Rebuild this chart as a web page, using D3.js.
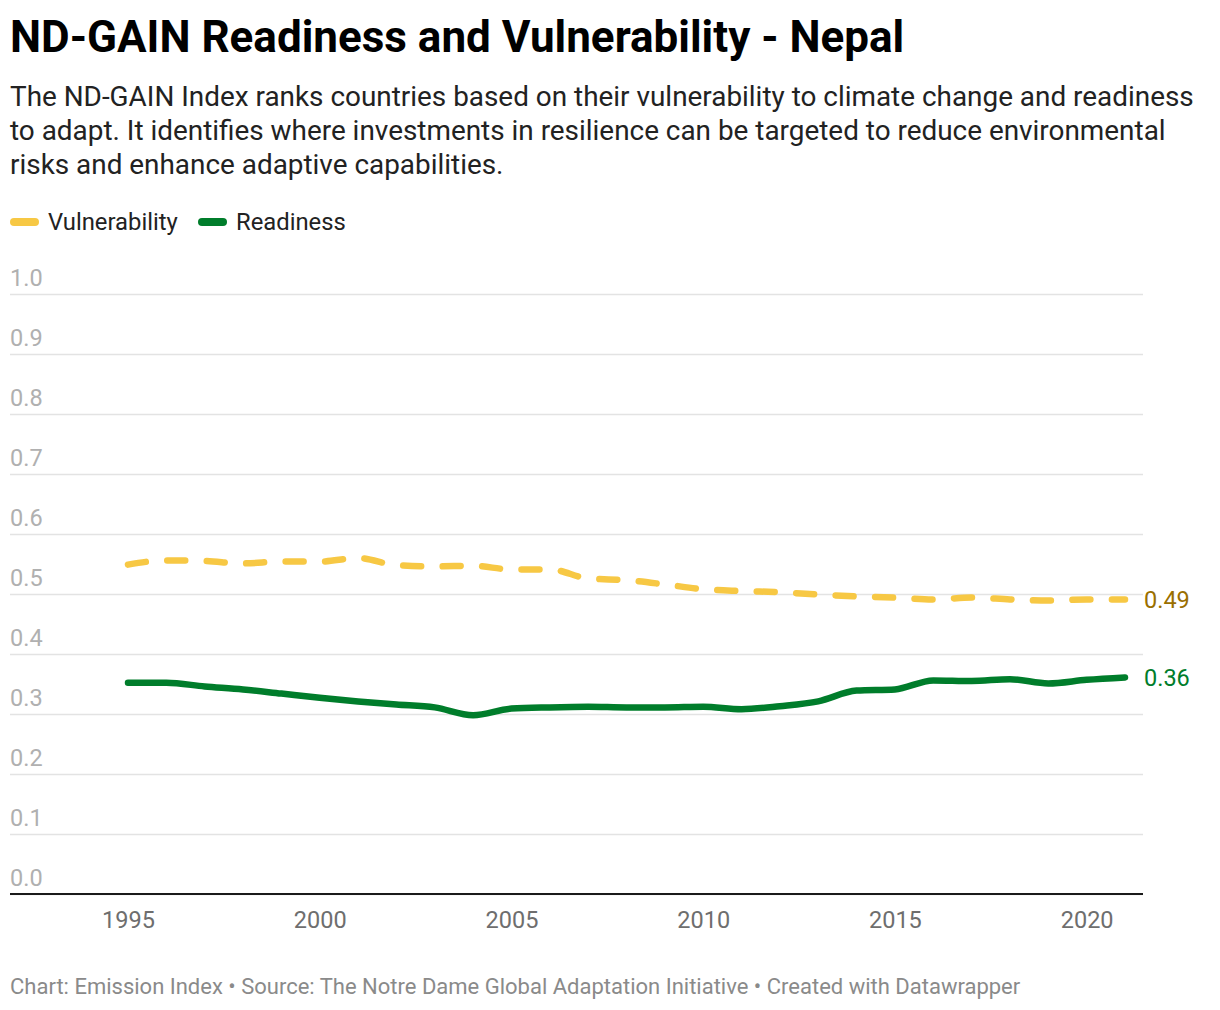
<!DOCTYPE html>
<html>
<head>
<meta charset="utf-8">
<script src="https://cdn.jsdelivr.net/npm/d3@7"></script>
<style>
  body { margin: 0; background: #fff; font-family: Roboto, sans-serif; }
</style>
</head>
<body>
<div id="chart"></div>
<script>
// data
var years = d3.range(1995, 2022);
var vulnerability = [0.549, 0.556, 0.555, 0.551, 0.554, 0.554, 0.560, 0.548, 0.546, 0.547,
  0.541, 0.541, 0.526, 0.523, 0.516, 0.508, 0.505, 0.503, 0.499, 0.496,
  0.494, 0.491, 0.494, 0.491, 0.489, 0.491, 0.491];
var readiness = [0.352, 0.352, 0.346, 0.341, 0.334, 0.327, 0.321, 0.316, 0.311, 0.298,
  0.309, 0.311, 0.312, 0.311, 0.311, 0.312, 0.308, 0.313, 0.321, 0.339,
  0.341, 0.356, 0.355, 0.358, 0.351, 0.357, 0.361];
var yTicks = [0, 0.1, 0.2, 0.3, 0.4, 0.5, 0.6, 0.7, 0.8, 0.9, 1.0];
var xTicks = [1995, 2000, 2005, 2010, 2015, 2020];

var title = "ND-GAIN Readiness and Vulnerability - Nepal";
var subtitle = [
  "The ND-GAIN Index ranks countries based on their vulnerability to climate change and readiness",
  "to adapt. It identifies where investments in resilience can be targeted to reduce environmental",
  "risks and enhance adaptive capabilities."
];
var footer = "Chart: Emission Index \u2022 Source: The Notre Dame Global Adaptation Initiative \u2022 Created with Datawrapper";

var width = 1220, height = 1010;

var svg = d3.select("#chart").append("svg")
  .attr("width", width)
  .attr("height", height);

// header
svg.append("text")
  .attr("x", 10).attr("y", 52)
  .attr("font-size", 44)
  .attr("font-weight", 700)
  .attr("fill", "#000")
  .text(title);

svg.append("g").selectAll("text")
  .data(subtitle)
  .enter().append("text")
    .attr("x", 10)
    .attr("y", function(d, i){ return 106 + i * 34; })
    .attr("font-size", 27.9)
    .attr("fill", "#222")
    .text(function(d){ return d; });

// legend
var legend = [
  {name: "Vulnerability", color: "#f7c844", x: 14},
  {name: "Readiness", color: "#007d2b", x: 202}
];
var lg = svg.append("g").selectAll("g").data(legend).enter().append("g");
lg.append("line")
  .attr("x1", function(d){ return d.x; })
  .attr("x2", function(d){ return d.x + 21; })
  .attr("y1", 222).attr("y2", 222)
  .attr("stroke", function(d){ return d.color; })
  .attr("stroke-width", 8)
  .attr("stroke-linecap", "round");
lg.append("text")
  .attr("x", function(d){ return d.x + 34; })
  .attr("y", 230)
  .attr("font-size", 23.8)
  .attr("fill", "#222")
  .text(function(d){ return d.name; });

// scales
var xScale = d3.scaleLinear().domain([1995, 2021]).range([128, 1125]);
var yScale = d3.scaleLinear().domain([0, 1]).range([894, 294]);

// gridlines + y labels
var yAxis = d3.axisLeft(yScale)
  .tickValues(yTicks)
  .tickSize(-1133)
  .tickFormat(d3.format(".1f"));
var gy = svg.append("g")
  .attr("transform", "translate(10,0)")
  .call(yAxis);
gy.select(".domain").remove();
gy.selectAll(".tick line").attr("stroke", "#e3e3e3").attr("stroke-width", 1.5);
gy.selectAll(".tick text")
  .attr("x", 0).attr("dy", -9)
  .attr("text-anchor", "start")
  .attr("font-family", "Roboto, sans-serif")
  .attr("font-size", 23.5)
  .attr("fill", "#b0b0b0");

// x axis
var xAxis = d3.axisBottom(xScale)
  .tickValues(xTicks)
  .tickSize(0)
  .tickPadding(17)
  .tickFormat(d3.format("d"));
var gx = svg.append("g")
  .attr("transform", "translate(0,894)")
  .call(xAxis);
gx.select(".domain").remove();
gx.selectAll(".tick text")
  .attr("font-family", "Roboto, sans-serif")
  .attr("font-size", 23.5)
  .attr("fill", "#6e6e6e");
svg.append("line")
  .attr("x1", 10).attr("x2", 1143)
  .attr("y1", 894).attr("y2", 894)
  .attr("stroke", "#1a1a1a").attr("stroke-width", 2);

// lines
var line = d3.line()
  .x(function(d){ return xScale(d.year); })
  .y(function(d){ return yScale(d.value); })
  .curve(d3.curveMonotoneX);

function toPoints(values){
  return values.map(function(v, i){ return {year: years[i], value: v}; });
}

svg.append("path")
  .datum(toPoints(vulnerability))
  .attr("d", line)
  .attr("fill", "none")
  .attr("stroke", "#f7c844")
  .attr("stroke-width", 6.5)
  .attr("stroke-linecap", "round")
  .attr("stroke-dasharray", "18,21.5");

svg.append("path")
  .datum(toPoints(readiness))
  .attr("d", line)
  .attr("fill", "none")
  .attr("stroke", "#007d2b")
  .attr("stroke-width", 6.5)
  .attr("stroke-linecap", "round")
  .attr("stroke-linejoin", "round");

// end labels
var ends = [
  {value: vulnerability[vulnerability.length - 1], color: "#9a6f00"},
  {value: readiness[readiness.length - 1], color: "#007d2b"}
];
svg.append("g").selectAll("text")
  .data(ends)
  .enter().append("text")
    .attr("x", 1144)
    .attr("y", function(d){ return yScale(d.value) + 9; })
    .attr("font-size", 23.5)
    .attr("fill", function(d){ return d.color; })
    .text(function(d){ return d3.format(".2f")(d.value); });

// footer
svg.append("text")
  .attr("x", 10).attr("y", 994)
  .attr("font-size", 22)
  .attr("fill", "#8a8a8a")
  .text(footer);
</script>
</body>
</html>
